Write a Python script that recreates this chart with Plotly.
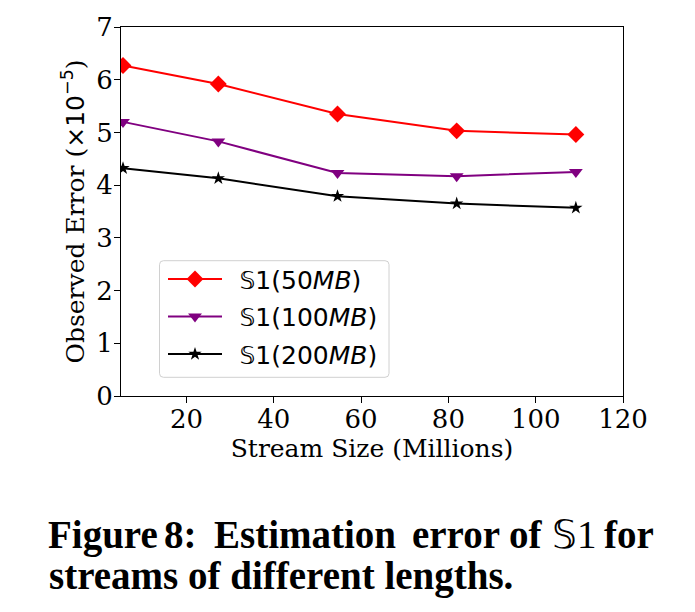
import plotly.graph_objects as go

stream_size = [5.46, 27.3, 54.6, 81.9, 109.2]
err_50mb = [6.27, 5.92, 5.35, 5.03, 4.96]
err_100mb = [5.20, 4.83, 4.23, 4.17, 4.25]
err_200mb = [4.32, 4.13, 3.79, 3.65, 3.57]

series_names = ["𝕊1(50<i>MB</i>)", "𝕊1(100<i>MB</i>)", "𝕊1(200<i>MB</i>)"]
series_vals = [err_50mb, err_100mb, err_200mb]
colors = ["#ff0000", "#800080", "#000000"]
symbols = ["diamond", "triangle-down", "star"]
msizes = [13, 12, 10]

W, H = 695, 612
L, R, T, B = 121, 623, 21, 396


def px(x):
    return (x - L) / (R - L)


def py(y):
    return (B - y) / (B - T)


fig = go.Figure()
for i, (name, vals, c, s, ms) in enumerate(zip(series_names, series_vals, colors, symbols, msizes)):
    fig.add_trace(go.Scatter(
        x=stream_size, y=vals, name="\u2002" + name, mode="lines+markers",
        legendgroup=f"g{i}",
        line=dict(color=c, width=2),
        marker=dict(symbol=s, size=ms, color=c, line=dict(width=0)),
    ))

serif = "DejaVu Serif"
axis_common = dict(
    showline=True, linecolor="black", linewidth=1.2, mirror=True,
    ticks="outside", ticklen=6, tickwidth=1.2, tickcolor="black",
    showgrid=False, zeroline=False,
    tickfont=dict(family=serif, size=26, color="black"),
)

fig.update_layout(
    width=W, height=H,
    margin=dict(l=L, r=W - R, t=T, b=H - B),
    paper_bgcolor="white", plot_bgcolor="white",
    xaxis=dict(range=[5, 120], tickvals=[20, 40, 60, 80, 100, 120],
               ticklabelstandoff=-6,
               title=dict(text="Stream Size (Millions)", standoff=2,
                          font=dict(family=serif, size=25, color="black")),
               **axis_common),
    yaxis=dict(range=[0, 7], tickvals=[0, 1, 2, 3, 4, 5, 6, 7],
               ticklabelstandoff=-4,
               title=dict(text="Observed Error (<span style='font-family:DejaVu Sans'>×10<sup>−5</sup></span>)",
                          standoff=4,
                          font=dict(family=serif, size=25, color="black")),
               **axis_common),
    legend=dict(x=px(163), y=py(254), xanchor="left", yanchor="top",
                bgcolor="rgba(0,0,0,0)", borderwidth=0,
                font=dict(family="DejaVu Sans", size=25, color="black"),
                itemwidth=54, tracegroupgap=2),
    showlegend=True,
)

# rounded legend frame
x0, x1, y0, y1, r = 159.5, 389, 258.5, 377, 4
path = (f"M {px(x0 + r)},{py(y0)} L {px(x1 - r)},{py(y0)} Q {px(x1)},{py(y0)} {px(x1)},{py(y0 + r)} "
        f"L {px(x1)},{py(y1 - r)} Q {px(x1)},{py(y1)} {px(x1 - r)},{py(y1)} "
        f"L {px(x0 + r)},{py(y1)} Q {px(x0)},{py(y1)} {px(x0)},{py(y1 - r)} "
        f"L {px(x0)},{py(y0 + r)} Q {px(x0)},{py(y0)} {px(x0 + r)},{py(y0)} Z")
fig.add_shape(type="path", path=path, xref="paper", yref="paper",
              line=dict(color="#d0d0d0", width=1), fillcolor="rgba(255,255,255,0.8)", layer="below")

cap_font = dict(family="Liberation Serif", size=39, color="black")
line1_words = ["<b>Figure</b>", "<b>8:</b>", "<b>Estimation</b>", "<b>error</b>", "<b>of</b>", "𝕊1", "<b>for</b>"]
line1_cx = [103, 180, 305, 456, 526, 574, 629]
for w, xx in zip(line1_words, line1_cx):
    fig.add_annotation(text=w, x=px(xx), y=py(537), xref="paper", yref="paper",
                       xanchor="center", yanchor="middle", showarrow=False,
                       font=cap_font)
fig.add_annotation(text="<b>streams of different lengths.</b>", x=px(52), y=py(579),
                   xref="paper", yref="paper", xanchor="left", yanchor="middle",
                   showarrow=False, font=cap_font, xshift=-5)

fig.write_html("out.html")
